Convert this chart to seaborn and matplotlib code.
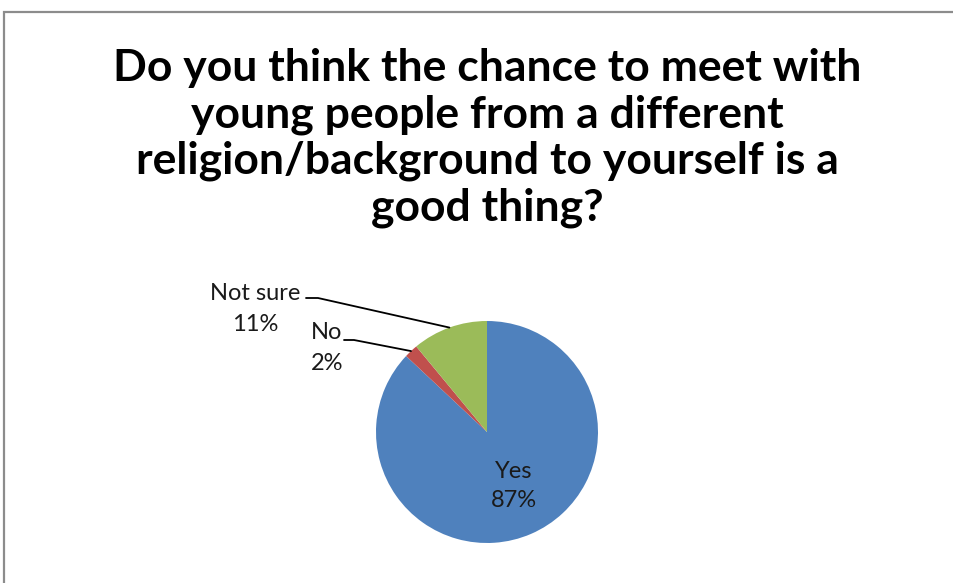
import numpy as np
import matplotlib
matplotlib.use("Agg")
import matplotlib.pyplot as plt
from matplotlib.patches import Rectangle
import seaborn as sns

# Survey answers
categories = ["Yes", "No", "Not sure"]
shares = [87, 2, 11]
colors = ["#4F81BD", "#C0504D", "#9BBB59"]

title = ("Do you think the chance to meet with\n"
         "young people from a different\n"
         "religion/background to yourself is a\n"
         "good thing?")

sns.set_theme(style="white")
plt.rcParams["font.family"] = ["Lato", "DejaVu Sans"]

W, H = 954, 583
fig = plt.figure(figsize=(W / 100, H / 100), dpi=100)
fig.patch.set_facecolor("white")

# chart-area frame (runs off the right and bottom edges)
fig.add_artist(Rectangle((4 / W, -0.1), 1.2, 1.1 - 12 / H, transform=fig.transFigure,
                         fill=False, edgecolor="#8c8c8c", linewidth=1.6))

fig.text(487 / W, 1 - 138 / H, title, ha="center", va="center", fontsize=32,
         fontweight="bold", linespacing=1.19, color="black")

# pie axes: centre and radius in pixels
cx, cy, r = 487, 432, 111
ax = fig.add_axes([(cx - r) / W, 1 - (cy + r) / H, 2 * r / W, 2 * r / H])
wedges, _ = ax.pie(shares, colors=colors, startangle=90, counterclock=False,
                   wedgeprops=dict(linewidth=0))
ax.set_xlim(-1, 1)
ax.set_ylim(-1, 1)
ax.set_aspect("equal")
ax.axis("off")

def px(x, y):
    return ((x - cx) / r, (cy - y) / r)

def mid_point(w, frac=1.0):
    a = np.deg2rad((w.theta1 + w.theta2) / 2)
    return (frac * np.cos(a), frac * np.sin(a))

lab_fs = 17
# Yes: inside the slice
ax.text(*px(514, 486), f"{categories[0]}\n{shares[0]}%", ha="center", va="center",
        fontsize=lab_fs, color="#1a1a1a", linespacing=1.5)

# No and Not sure: outside with leader lines
outside = [
    (1, (327, 348), (344, 340), (354, 340)),
    (2, (255, 309), (306, 298), (318, 298)),
]
for idx, tpos, start, knee in outside:
    ax.text(*px(*tpos), f"{categories[idx]}\n{shares[idx]}%", ha="center", va="center",
            fontsize=lab_fs, color="#1a1a1a", linespacing=1.6)
    ex, ey = mid_point(wedges[idx])
    xs = [px(*start)[0], px(*knee)[0], ex]
    ys = [px(*start)[1], px(*knee)[1], ey]
    ax.plot(xs, ys, color="black", linewidth=1.3, clip_on=False)

fig.savefig("out.png", dpi=100, facecolor="white")
